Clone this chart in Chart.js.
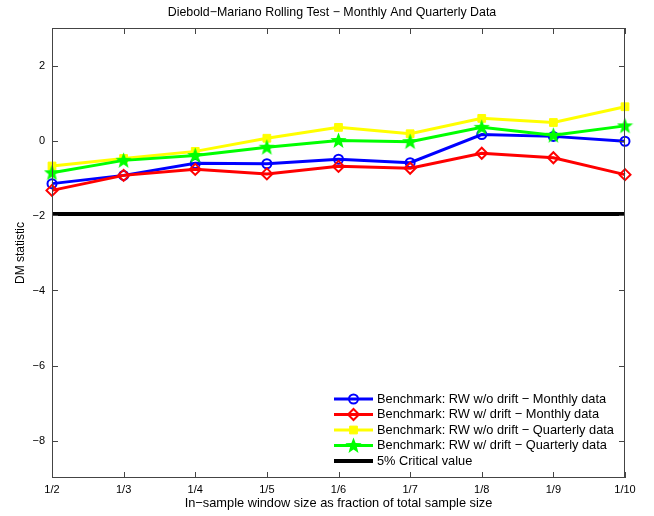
<!DOCTYPE html>
<html>
<head>
<meta charset="utf-8">
<script src="https://cdn.jsdelivr.net/npm/chart.js@4.4.1/dist/chart.umd.min.js"></script>
<style>
html,body{margin:0;padding:0;background:#fff}
#wrap{width:654px;height:516px}
</style>
</head>
<body>
<div id="wrap"><canvas id="dmChart" width="654" height="516"></canvas></div>
<script>
/* ---------------- DATA ---------------- */

const windowLabels = ["1/2","1/3","1/4","1/5","1/6","1/7","1/8","1/9","1/10"]

const rwMonthly = [-1.15,-0.93,-0.61,-0.62,-0.50,-0.59,0.16,0.11,-0.02]
const rwDriftMonthly = [-1.33,-0.93,-0.77,-0.89,-0.69,-0.74,-0.34,-0.46,-0.91]
const rwQuarterly = [-0.68,-0.48,-0.29,0.06,0.35,0.18,0.59,0.48,0.90]
const rwDriftQuarterly = [-0.86,-0.53,-0.40,-0.18,0.00,-0.03,0.35,0.14,0.39]
const criticalValue = -1.96

const seriesNames = [
"Benchmark: RW w/o drift \u2212 Monthly data",
"Benchmark: RW w/ drift \u2212 Monthly data",
"Benchmark: RW w/o drift \u2212 Quarterly data",
"Benchmark: RW w/ drift \u2212 Quarterly data",
"5% Critical value"
]

const chartTitle = "Diebold\u2212Mariano Rolling Test \u2212 Monthly And Quarterly Data"

const yTicks = [-8,-6,-4,-2,0,2]

/* ---------------- STAR MARKER ---------------- */

function makeStar(color,size){
const c = document.createElement("canvas")
c.width = size
c.height = size
const g = c.getContext("2d")
const cx = size/2, cy = size/2 + 0.5
const outer = size/2, inner = outer*0.42
g.beginPath()
for(let i=0;i<10;i++){
const r = i%2===0 ? outer : inner
const a = -Math.PI/2 + i*Math.PI/5
const px = cx + r*Math.cos(a)
const py = cy + r*Math.sin(a)
if(i===0) g.moveTo(px,py); else g.lineTo(px,py)
}
g.closePath()
g.fillStyle = color
g.fill()
return c
}

const greenStar = makeStar("#00ff00",17)

const fontFamily = "'Liberation Sans', Arial, sans-serif"

/* ---------------- PLUGINS ---------------- */

const boxPlugin = {
id:"matlabBox",
afterDatasetsDraw(chart){
const {ctx, chartArea:a, scales:{x,y}} = chart
ctx.save()

/* title */
ctx.fillStyle = "#000"
ctx.font = "12.4px " + fontFamily
ctx.textAlign = "center"
ctx.textBaseline = "middle"
ctx.fillText(chartTitle,332,13)

/* box and inner ticks */
ctx.strokeStyle = "#444"
ctx.lineWidth = 1
ctx.strokeRect(a.left+0.5,a.top+0.5,a.right-a.left-1,a.bottom-a.top-1)
ctx.beginPath()
windowLabels.forEach((l,i)=>{
const px = Math.round(x.getPixelForValue(i))+0.5
ctx.moveTo(px,a.bottom); ctx.lineTo(px,a.bottom-6)
ctx.moveTo(px,a.top); ctx.lineTo(px,a.top+6)
})
yTicks.forEach(v=>{
const py = Math.round(y.getPixelForValue(v))+0.5
ctx.moveTo(a.left,py); ctx.lineTo(a.left+6,py)
ctx.moveTo(a.right,py); ctx.lineTo(a.right-6,py)
})
ctx.stroke()

/* legend */
const lx0 = 334, lx1 = 373, tx = 377
const ly0 = 399, step = 15.5
ctx.font = "12.8px " + fontFamily
ctx.textBaseline = "middle"
ctx.textAlign = "left"
chart.data.datasets.forEach((ds,i)=>{
const ly = ly0 + i*step
ctx.strokeStyle = ds.borderColor
ctx.lineWidth = ds.borderWidth
ctx.beginPath()
ctx.moveTo(lx0,ly); ctx.lineTo(lx1,ly)
ctx.stroke()
if(ds.pointStyle && ds.pointRadius>0){
ctx.fillStyle = ds.pointBackgroundColor
ctx.strokeStyle = ds.pointBorderColor
ctx.lineWidth = ds.pointBorderWidth
Chart.helpers.drawPoint(ctx,{
pointStyle:ds.pointStyle,
radius:ds.pointRadius,
rotation:0,
borderWidth:ds.pointBorderWidth
},(lx0+lx1)/2,ly)
}
ctx.fillStyle = "#000"
ctx.fillText(ds.label,tx,ly)
})
ctx.restore()
}
}

/* ---------------- CHART ---------------- */

const ctx = document.getElementById("dmChart").getContext("2d")

new Chart(ctx,{
type:"line",
data:{
labels:windowLabels,
datasets:[
{
label:seriesNames[0],
data:rwMonthly,
borderColor:"#0000ff",
borderWidth:3,
pointStyle:"circle",
pointRadius:4.5,
pointBorderWidth:2,
pointBorderColor:"#0000ff",
pointBackgroundColor:"rgba(0,0,0,0)",
order:5
},
{
label:seriesNames[1],
data:rwDriftMonthly,
borderColor:"#ff0000",
borderWidth:3,
pointStyle:"rectRot",
pointRadius:5.5,
pointBorderWidth:2,
pointBorderColor:"#ff0000",
pointBackgroundColor:"rgba(0,0,0,0)",
order:4
},
{
label:seriesNames[2],
data:rwQuarterly,
borderColor:"#ffff00",
borderWidth:3,
pointStyle:"rect",
pointRadius:5.5,
pointBorderWidth:1,
pointBorderColor:"#ffff00",
pointBackgroundColor:"#ffff00",
order:3
},
{
label:seriesNames[3],
data:rwDriftQuarterly,
borderColor:"#00ff00",
borderWidth:3,
pointStyle:greenStar,
pointRadius:8,
pointBorderWidth:0,
pointBorderColor:"#00ff00",
pointBackgroundColor:"#00ff00",
order:2
},
{
label:seriesNames[4],
data:windowLabels.map(()=>criticalValue),
borderColor:"#000000",
borderWidth:4,
pointRadius:0,
pointStyle:false,
order:1
}
].map(d=>Object.assign({tension:0,clip:false,pointHoverRadius:d.pointRadius},d))
},
options:{
responsive:false,
animation:false,
events:[],
layout:{padding:{left:0,right:29,top:28,bottom:0}},
plugins:{
legend:{display:false},
tooltip:{enabled:false},
title:{display:false}
},
scales:{
x:{
type:"category",
offset:false,
grid:{display:false,drawTicks:false},
border:{display:false},
ticks:{color:"#000",padding:5,maxRotation:0,autoSkip:false,font:{family:fontFamily,size:11}},
title:{
display:true,
text:"In\u2212sample window size as fraction of total sample size",
color:"#000",
font:{family:fontFamily,size:12.8,lineHeight:1.2},
padding:{top:0,bottom:5}
},
afterFit(scale){ scale.height = 38 }
},
y:{
min:-9,
max:3,
grid:{display:false,drawTicks:false},
border:{display:false},
afterBuildTicks(scale){
scale.ticks = yTicks.map(v=>({value:v}))
},
ticks:{
color:"#000",
padding:7,
font:{family:fontFamily,size:11},
callback:v=> v<0 ? "\u2212"+Math.abs(v) : String(v)
},
title:{
display:true,
text:"DM statistic",
color:"#000",
font:{family:fontFamily,size:12,lineHeight:1.2},
padding:{top:13,bottom:0}
},
afterFit(scale){ scale.width = 52 }
}
}
},
plugins:[boxPlugin]
})
</script>
</body>
</html>
